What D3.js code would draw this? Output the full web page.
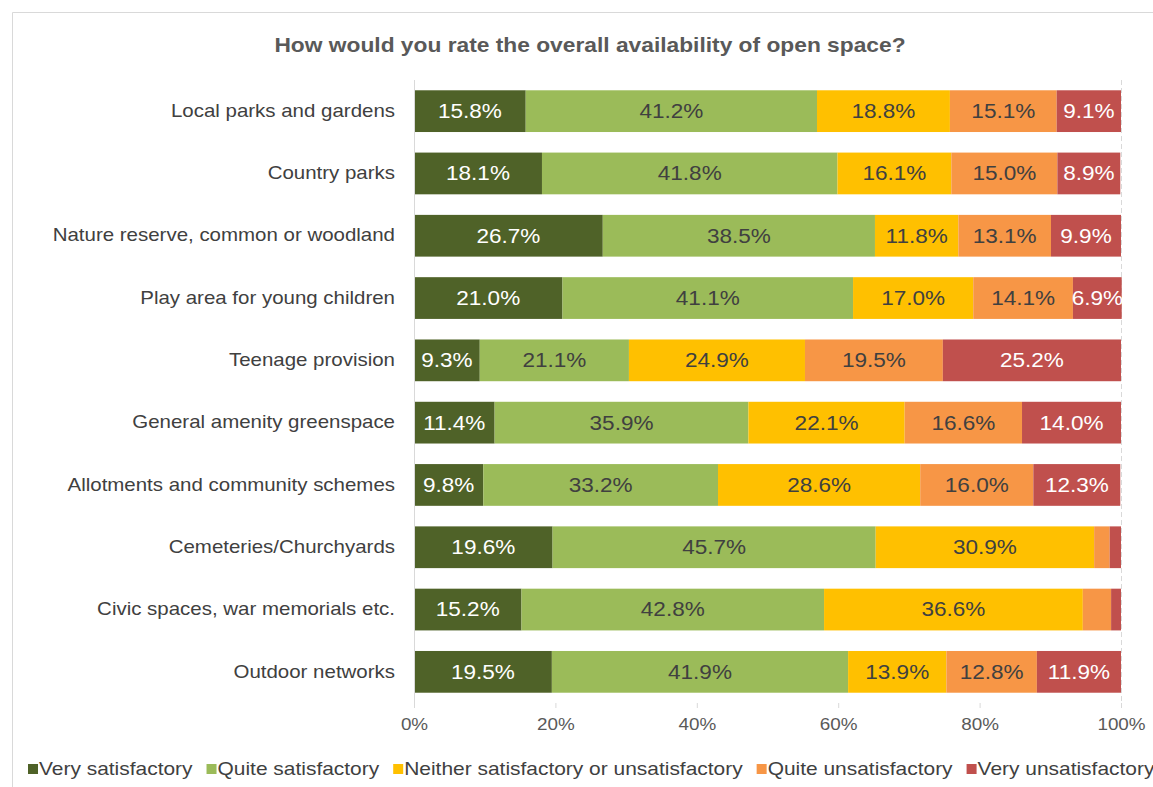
<!doctype html>
<html lang="en">
  <head>
    <meta charset="UTF-8" />
    <title>Open space availability</title>
    <script src="https://cdn.jsdelivr.net/npm/d3@7"></script>
    <style>
      body { margin: 0; background: #fff; font-family: "Liberation Sans", Arial, sans-serif; }
    </style>
  </head>
  <body>
    <div id="chart"></div>
    <script>
      // categories, top to bottom
      const categories = [
        "Local parks and gardens",
        "Country parks",
        "Nature reserve, common or woodland",
        "Play area for young children",
        "Teenage provision",
        "General amenity greenspace",
        "Allotments and community schemes",
        "Cemeteries/Churchyards",
        "Civic spaces, war memorials etc.",
        "Outdoor networks"
      ];
      const seriesNames = [
        "Very satisfactory",
        "Quite satisfactory",
        "Neither satisfactory or unsatisfactory",
        "Quite unsatisfactory",
        "Very unsatisfactory"
      ];
      const verySatisfactory    = [15.8, 18.1, 26.7, 21.0, 9.3, 11.4, 9.8, 19.6, 15.2, 19.5];
      const quiteSatisfactory   = [41.2, 41.8, 38.5, 41.1, 21.1, 35.9, 33.2, 45.7, 42.8, 41.9];
      const neither             = [18.8, 16.1, 11.8, 17.0, 24.9, 22.1, 28.6, 30.9, 36.6, 13.9];
      const quiteUnsatisfactory = [15.1, 15.0, 13.1, 14.1, 19.5, 16.6, 16.0, 2.2, 4.0, 12.8];
      const veryUnsatisfactory  = [9.1, 8.9, 9.9, 6.9, 25.2, 14.0, 12.3, 1.6, 1.4, 11.9];
      const tickValues = [0, 20, 40, 60, 80, 100];

      const colors = ["#4f6228", "#9bbb59", "#ffc000", "#f79646", "#c0504d"];
      const labelColors = ["#fff", "#404040", "#404040", "#404040", "#fff"];

      const width = 1153, height = 787;
      const marginLeft = 414, marginRight = 32, marginTop = 80, marginBottom = 84;
      const sx = 1.15; // text in the original is drawn a bit wide

      // turn x/y of a text into a transform with horizontal stretch
      function widen(sel) {
        sel.each(function () {
          const t = d3.select(this);
          const tx = +t.attr("x") || 0, ty = +t.attr("y") || 0;
          t.attr("x", null).attr("y", null)
            .attr("transform", `translate(${tx},${ty}) scale(${sx},1)`);
        });
      }

      const seriesValues = [verySatisfactory, quiteSatisfactory, neither, quiteUnsatisfactory, veryUnsatisfactory];
      const table = categories.map((c, i) => {
        const row = { category: c };
        seriesNames.forEach((s, j) => row[s] = seriesValues[j][i]);
        return row;
      });
      const stacked = d3.stack().keys(seriesNames)(table);

      const x = d3.scaleLinear().domain([0, 100]).range([marginLeft, width - marginRight]);
      const y = d3.scaleBand().domain(categories).range([marginTop, height - marginBottom]).paddingInner(0.33).paddingOuter(0.165);

      const svg = d3.select("#chart").append("svg")
        .attr("width", width)
        .attr("height", height);

      // chart frame
      svg.append("path")
        .attr("d", `M12.5,${height} V12.5 H${width}`)
        .attr("fill", "none")
        .attr("stroke", "#d9d9d9");

      svg.append("text")
        .text("How would you rate the overall availability of open space?")
        .attr("x", 590)
        .attr("y", 52)
        .attr("text-anchor", "middle")
        .attr("font-size", 19.8)
        .attr("font-weight", "bold")
        .attr("fill", "#595959")
        .call(widen);

      // dashed line at 100%
      svg.append("line")
        .attr("x1", x(100) + 0.5).attr("x2", x(100) + 0.5)
        .attr("y1", marginTop).attr("y2", height - marginBottom)
        .attr("stroke", "#d9d9d9")
        .attr("stroke-dasharray", "5,3");

      const layers = svg.append("g")
        .selectAll("g")
        .data(stacked)
        .join("g")
        .attr("fill", (d, i) => colors[i]);

      layers.selectAll("rect")
        .data(d => d)
        .join("rect")
        .attr("x", d => x(d[0]))
        .attr("width", d => x(d[1]) - x(d[0]))
        .attr("y", d => y(d.data.category))
        .attr("height", y.bandwidth());

      layers.selectAll("text")
        .data((d, i) => d.map(v => ({ v, i, key: d.key })))
        .join("text")
        .filter(d => d.v[1] - d.v[0] >= 5)
        .text(d => d.v.data[d.key].toFixed(1) + "%")
        .attr("x", d => (x(d.v[0]) + x(d.v[1])) / 2)
        .attr("y", d => y(d.v.data.category) + y.bandwidth() / 2)
        .attr("dy", "0.35em")
        .attr("text-anchor", "middle")
        .attr("font-size", 19.6)
        .attr("fill", d => labelColors[d.i])
        .call(widen);

      // left axis with category names
      const yAxis = svg.append("g")
        .attr("transform", `translate(${marginLeft},0)`)
        .call(d3.axisLeft(y).tickSize(0).tickPadding(19));
      yAxis.select(".domain").attr("stroke", "#d9d9d9").attr("d", `M0.5,${marginTop}V${height - marginBottom + 5}`);
      yAxis.selectAll("text").attr("font-size", 17.8).attr("fill", "#404040")
        .attr("font-family", "Liberation Sans, Arial, sans-serif").call(widen);

      // bottom axis
      const xAxis = svg.append("g")
        .attr("transform", `translate(0,${height - marginBottom})`)
        .call(d3.axisBottom(x).tickValues(tickValues).tickFormat(d => d + "%").tickSize(5).tickPadding(10));
      xAxis.select(".domain").remove();
      xAxis.selectAll("line").attr("stroke", "#d9d9d9");
      xAxis.selectAll("text").attr("font-size", 16.4).attr("fill", "#595959")
        .attr("font-family", "Liberation Sans, Arial, sans-serif").call(widen);

      // legend
      const legend = svg.append("g").attr("transform", "translate(28,769)");
      let lx = 0;
      seriesNames.forEach((s, i) => {
        const item = legend.append("g").attr("transform", `translate(${lx},0)`);
        item.append("rect").attr("x", 0).attr("y", -5).attr("width", 10).attr("height", 10).attr("fill", colors[i]);
        const t = item.append("text").text(s).attr("x", 11).attr("dy", "0.35em")
          .attr("font-size", 18.2).attr("fill", "#404040").call(widen);
        lx += 11 + t.node().getComputedTextLength() * sx + 14;
      });
    </script>
  </body>
</html>
